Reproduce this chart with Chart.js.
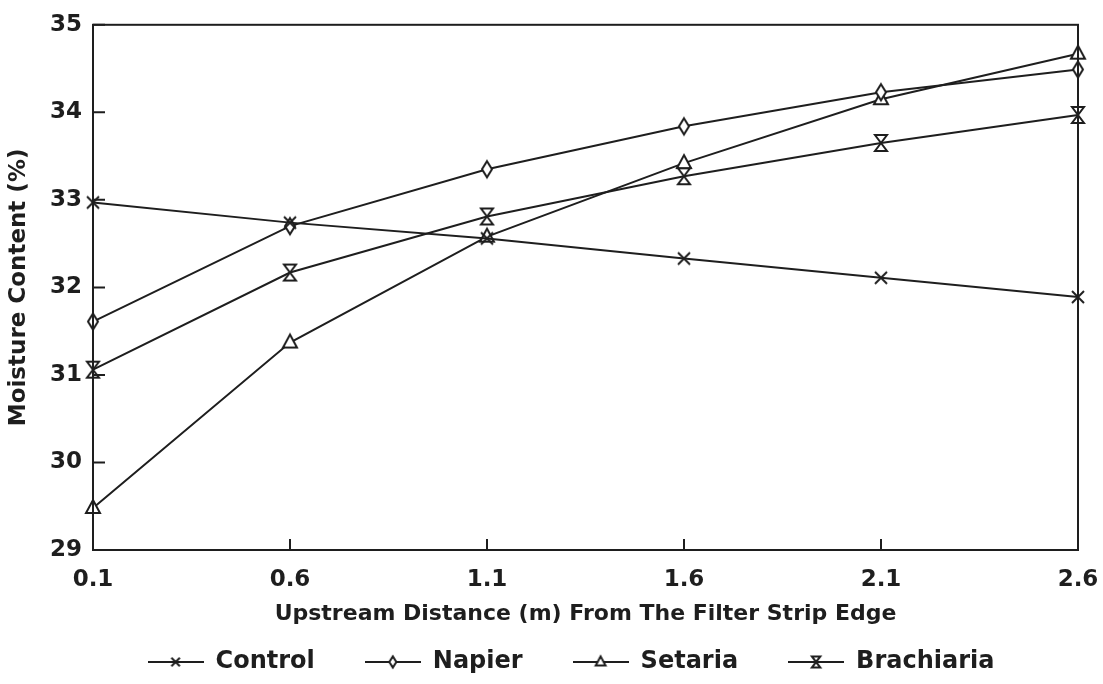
<!DOCTYPE html>
<html>
<head>
<meta charset="utf-8">
<title>Moisture content vs upstream distance</title>
<script src="https://cdn.jsdelivr.net/npm/chart.js@4.4.1/dist/chart.umd.min.js"></script>
<style>
  html, body { margin: 0; background: #fff; }
</style>
</head>
<body>
<canvas id="chart" width="1103" height="684"></canvas>
<script>
// Moisture content (%) at each upstream distance
const distances = ["0.1", "0.6", "1.1", "1.6", "2.1", "2.6"];
const control = [32.97, 32.74, 32.56, 32.33, 32.11, 31.89];
const napier = [31.61, 32.70, 33.35, 33.84, 34.23, 34.49];
const setaria = [29.48, 31.37, 32.58, 33.42, 34.15, 34.67];
const brachiaria = [31.06, 32.17, 32.81, 33.27, 33.65, 33.97];
const seriesNames = ["Control", "Napier", "Setaria", "Brachiaria"];
const yTicks = [29, 30, 31, 32, 33, 34, 35];

const ink = "#1e1e1e";
const fontFamily = "'DejaVu Sans', sans-serif";

// Marker shapes used in the original (x, thin diamond, triangle, hourglass)
function drawMarker(ctx, kind, cx, cy, s) {
  ctx.beginPath();
  if (kind === "cross") {
    ctx.moveTo(cx - 6 * s, cy - 6 * s); ctx.lineTo(cx + 6 * s, cy + 6 * s);
    ctx.moveTo(cx + 6 * s, cy - 6 * s); ctx.lineTo(cx - 6 * s, cy + 6 * s);
    ctx.stroke();
    return;
  }
  if (kind === "diamond") {
    ctx.moveTo(cx, cy - 8 * s); ctx.lineTo(cx + 5 * s, cy);
    ctx.lineTo(cx, cy + 8 * s); ctx.lineTo(cx - 5 * s, cy);
  } else if (kind === "triangle") {
    ctx.moveTo(cx, cy - 8 * s); ctx.lineTo(cx + 7 * s, cy + 5 * s);
    ctx.lineTo(cx - 7 * s, cy + 5 * s);
  } else {
    ctx.moveTo(cx - 6 * s, cy - 8 * s); ctx.lineTo(cx + 6 * s, cy - 8 * s);
    ctx.lineTo(cx - 6 * s, cy + 8 * s); ctx.lineTo(cx + 6 * s, cy + 8 * s);
  }
  ctx.closePath();
  ctx.fill();
  ctx.stroke();
}

function pointCanvas(kind) {
  const c = document.createElement("canvas");
  c.width = 22; c.height = 22;
  const ctx = c.getContext("2d");
  ctx.strokeStyle = ink; ctx.fillStyle = "#fff"; ctx.lineWidth = 2;
  drawMarker(ctx, kind, 11, 11, 1);
  return c;
}

function legendCanvas(kind) {
  const c = document.createElement("canvas");
  c.width = 56; c.height = 20;
  const ctx = c.getContext("2d");
  ctx.strokeStyle = ink; ctx.fillStyle = "#fff"; ctx.lineWidth = 2;
  ctx.beginPath(); ctx.moveTo(0, 10); ctx.lineTo(56, 10); ctx.stroke();
  drawMarker(ctx, kind, 28, 10, 0.7);
  return c;
}

const markerKinds = ["cross", "diamond", "triangle", "hourglass"];
const values = [control, napier, setaria, brachiaria];

const datasets = seriesNames.map((name, i) => ({
  label: name,
  data: values[i],
  borderColor: ink,
  borderWidth: 2,
  pointStyle: pointCanvas(markerKinds[i]),
  legendStyle: legendCanvas(markerKinds[i]),
  tension: 0,
  clip: false
}));

// Frame round the plot and short tick marks pointing inwards
const frameTicks = {
  id: "frameTicks",
  afterLayout(chart) {
    // legend sits a little right of centre in the original
    chart.legend.left += 32;
    chart.legend.right += 32;
  },
  afterDatasetsDraw(chart) {
    const { ctx, chartArea: a, scales } = chart;
    ctx.save();
    ctx.strokeStyle = ink;
    ctx.lineWidth = 2;
    ctx.strokeRect(a.left, a.top, a.right - a.left, a.bottom - a.top);
    ctx.beginPath();
    scales.x.ticks.forEach((t, i) => {
      const x = scales.x.getPixelForTick(i);
      ctx.moveTo(x, a.bottom); ctx.lineTo(x, a.bottom - 11);
    });
    scales.y.ticks.forEach((t, i) => {
      const y = scales.y.getPixelForTick(i);
      ctx.moveTo(a.left, y); ctx.lineTo(a.left + 12, y);
    });
    ctx.stroke();
    ctx.restore();
  }
};

new Chart(document.getElementById("chart"), {
  type: "line",
  data: { labels: distances, datasets },
  plugins: [frameTicks],
  options: {
    responsive: false,
    animation: false,
    layout: { padding: { top: 19, right: 25, left: 0, bottom: 0 } },
    scales: {
      x: {
        type: "category",
        offset: false,
        grid: { display: false, drawTicks: false },
        border: { display: false },
        ticks: { color: ink, padding: 16, maxRotation: 0, font: { family: fontFamily, size: 23, weight: "bold" } },
        title: {
          display: true,
          text: "Upstream Distance (m) From The Filter Strip Edge",
          color: ink,
          padding: { top: 0, bottom: -27 },
          font: { family: fontFamily, size: 22, weight: "bold" }
        },
        afterFit: (s) => { s.height = 50; s.paddingLeft = 0; s.paddingRight = 0; }
      },
      y: {
        min: yTicks[0],
        max: yTicks[yTicks.length - 1],
        grid: { display: false, drawTicks: false },
        border: { display: false },
        afterBuildTicks: (s) => { s.ticks = yTicks.map(v => ({ value: v })); },
        ticks: { color: ink, padding: 11, font: { family: fontFamily, size: 23, weight: "bold" } },
        title: {
          display: true,
          text: "Moisture Content (%)",
          color: ink,
          padding: { top: 5, bottom: 0 },
          font: { family: fontFamily, size: 23, weight: "bold" }
        },
        afterFit: (s) => { s.width = 93; }
      }
    },
    plugins: {
      legend: {
        position: "bottom",
        labels: {
          usePointStyle: true,
          pointStyleWidth: 56,
          padding: 50,
          color: ink,
          font: { family: fontFamily, size: 24, weight: "bold" },
          generateLabels: (chart) => chart.data.datasets.map((d, i) => ({
            text: d.label,
            pointStyle: d.legendStyle,
            fontColor: ink,
            strokeStyle: ink,
            lineWidth: 0,
            hidden: false,
            datasetIndex: i
          }))
        }
      },
      tooltip: { enabled: false }
    }
  }
});
</script>
</body>
</html>
